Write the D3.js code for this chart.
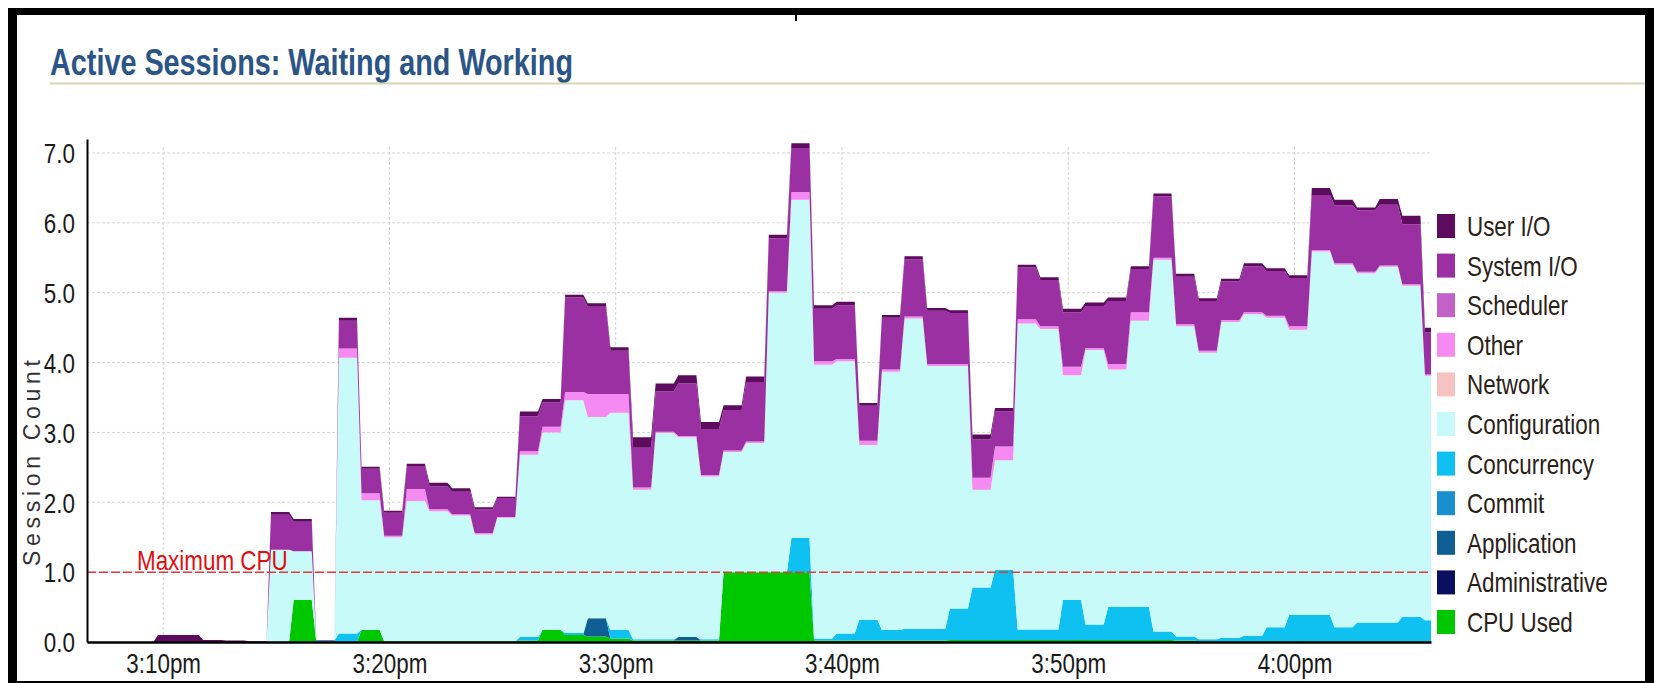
<!DOCTYPE html>
<html><head><meta charset="utf-8">
<script src="https://cdn.jsdelivr.net/npm/d3@7"></script>
<style>
html,body{margin:0;padding:0;background:#fff;}
svg{display:block;}
text{font-family:"Liberation Sans",Arial,sans-serif;}
</style></head><body>
<svg id="chart" width="1654" height="683"></svg>
<script>
// ---------- data ----------
const titleText = "Active Sessions: Waiting and Working";
const yAxisTitle = "Session Count";
const maxCpuLabel = "Maximum CPU";
const maxCpuValue = 1.0;

const seriesNames = ["CPU Used","Administrative","Application","Commit","Concurrency","Configuration","Network","Other","Scheduler","System I/O","User I/O"];
const seriesColors = ["#00c800","#0a0f5e","#0f5f95","#1a8fd0","#0fc1f1","#c9fafa","#f7c2c2","#f48af2","#c261c8","#9b30a3","#5c0b5e"];

// one sample per minute starting 3:07:10pm (60 samples)
const cpuUsed = [0,0,0,0,0,0,0,0,0,0.6, 0,0,0.17,0.01,0.01,0.01,0.01,0.01,0.01,0.02, 0.17,0.1,0.08,0.05,0.02,0.02,0.02,0.02,1.0,1.0, 1.0,1.0,0.02,0.02,0.02,0.02,0.02,0.02,0.03,0.03, 0.03,0.03,0.03,0.03,0.03,0.03,0.03,0.03,0.02,0.01, 0.01,0.01,0.01,0.01,0.01,0.01,0.01,0.01,0.01,0.01];
const administrative = [0,0,0,0,0,0,0,0,0,0, 0,0,0,0,0,0,0,0,0,0, 0,0,0,0,0,0,0,0,0,0, 0,0,0,0,0,0,0,0,0,0, 0,0,0,0,0,0,0,0,0,0, 0,0,0,0,0,0,0,0,0,0];
const application = [0,0,0,0,0,0,0,0,0,0, 0,0,0,0,0,0,0,0,0,0, 0,0,0.26,0,0,0,0.05,0,0,0, 0,0,0,0,0,0,0,0,0,0, 0,0,0,0,0,0,0,0,0,0, 0,0,0,0,0,0,0,0,0,0];
const commit = [0,0,0,0,0,0,0,0,0,0, 0,0,0,0,0,0,0,0,0,0, 0,0,0,0,0,0,0,0,0,0, 0,0,0,0,0,0,0,0,0,0, 0,0,0,0,0,0,0,0,0,0, 0,0,0,0,0,0,0,0,0,0];
const concurrency = [0,0,0,0,0,0,0,0,0,0, 0.02,0.12,0,0,0,0,0,0,0,0.05, 0,0.03,0,0.12,0.02,0.02,0,0.02,0,0, 0,0.49,0.03,0.1,0.3,0.15,0.17,0.17,0.45,0.75, 1.0,0.15,0.15,0.57,0.22,0.47,0.47,0.12,0.06,0.03, 0.05,0.08,0.2,0.38,0.38,0.2,0.27,0.27,0.35,0.3];
const configuration = [0,0,0,0,0,0,0,0,1.32,0.7, 0,3.95,1.86,1.49,2.01,1.86,1.8,1.53,1.77,2.61, 2.83,3.33,2.88,3.11,2.14,2.95,2.86,2.33,1.72,1.85, 4.0,4.84,3.92,3.9,2.5,3.7,4.44,3.76,3.47,1.4, 1.57,4.38,4.3,3.22,3.93,3.4,4.1,5.32,4.44,4.1, 4.52,4.6,4.43,4.08,5.2,5.19,5.0,5.09,4.74,3.5];
const network = [0,0,0,0,0,0,0,0,0,0, 0,0,0,0,0,0,0,0,0,0, 0,0,0,0,0,0,0,0,0,0, 0,0,0,0,0,0,0,0,0,0, 0,0,0,0,0,0,0,0,0,0, 0,0,0,0,0,0,0,0,0,0];
const other = [0,0,0,0,0,0,0,0,0,0, 0,0.13,0.1,0.02,0.17,0.03,0.02,0.02,0.01,0.05, 0.08,0.12,0.33,0.27,0.03,0.02,0.02,0.02,0.02,0.02, 0.02,0.11,0.05,0.03,0.06,0.03,0.03,0.03,0.03,0.17, 0.2,0.06,0.04,0.12,0.03,0.08,0.12,0.03,0.03,0.03, 0.03,0.03,0.03,0.05,0.02,0.02,0.02,0.02,0.02,0.02];
const scheduler = [0,0,0,0,0,0,0,0,0,0, 0,0,0,0,0,0,0,0,0,0, 0,0,0,0,0,0,0,0,0,0, 0,0,0,0,0,0,0,0,0,0, 0,0,0,0,0,0,0,0,0,0, 0,0,0,0,0,0,0,0,0,0];
const systemIO = [0,0,0,0,0,0,0,0,0.5,0.42, 0,0.4,0.35,0.33,0.33,0.33,0.32,0.34,0.27,0.5, 0.35,1.35,1.25,0.62,0.57,0.58,0.75,0.66,0.58,0.85, 0.76,0.63,0.75,0.77,0.5,0.74,0.82,0.76,0.73,0.55, 0.5,0.74,0.66,0.78,0.6,0.9,0.62,0.88,0.68,0.71, 0.55,0.66,0.64,0.69,0.79,0.83,0.88,0.87,0.86,0.6];
const userIO = [0,0,0,0.1,0.1,0.03,0.02,0.01,0.04,0.04, 0.01,0.04,0.03,0.03,0.03,0.05,0.05,0.03,0.02,0.07, 0.05,0.04,0.05,0.05,0.15,0.11,0.12,0.1,0.07,0.08, 0.05,0.07,0.05,0.05,0.04,0.04,0.04,0.04,0.04,0.07, 0.05,0.04,0.04,0.05,0.05,0.05,0.04,0.04,0.04,0.04, 0.04,0.04,0.04,0.04,0.1,0.08,0.04,0.08,0.12,0.07];

const seriesValues = [cpuUsed, administrative, application, commit, concurrency, configuration, network, other, scheduler, systemIO, userIO];

const xTickLabels = ["3:10pm","3:20pm","3:30pm","3:40pm","3:50pm","4:00pm"];
const xTickTimes = [[15,10],[15,20],[15,30],[15,40],[15,50],[16,0]];
const yTickValues = [0,1,2,3,4,5,6,7];
const yTickLabels = ["0.0","1.0","2.0","3.0","4.0","5.0","6.0","7.0"];

// ---------- layout ----------
const svg = d3.select("#chart");
const plot = {left: 87, right: 1431, top: 139, bottom: 642};
const day = (h,m,s) => new Date(2000,0,1,h,m,s||0);
const x = d3.scaleTime().domain([day(15,6,38), day(16,6,2)]).range([plot.left, plot.right]);
const y = d3.scaleLinear().domain([0, 7.2]).range([plot.bottom, plot.top]);

const sampleStart = day(15,7,10);
const sampleTimes = cpuUsed.map((_, i) => d3.timeMinute.offset(sampleStart, i));

// expand each one-minute sample into a short plateau
const rows = [];
sampleTimes.forEach((t, i) => {
  [-0.4, 0.4].forEach(off => {
    const r = {t: new Date(+t + off * 60000)};
    seriesNames.forEach((k, j) => r[k] = seriesValues[j][i]);
    rows.push(r);
  });
});
const stacked = d3.stack().keys(seriesNames)(rows);

const FS = 27, SX = 0.83;

// frame
svg.append("rect").attr("x",0).attr("y",0).attr("width",1654).attr("height",683).attr("fill","#fff");
const frame = svg.append("g").attr("fill","#000");
frame.append("rect").attr("x",8).attr("y",8).attr("width",1646).attr("height",7);
frame.append("rect").attr("x",8).attr("y",8).attr("width",9).attr("height",675);
frame.append("rect").attr("x",1645).attr("y",8).attr("width",9).attr("height",675);
frame.append("rect").attr("x",8).attr("y",681).attr("width",1646).attr("height",2);
svg.append("line").attr("x1",796).attr("x2",796).attr("y1",14).attr("y2",21).attr("stroke","#000").attr("stroke-width",2);

// title
svg.append("text").attr("x",50).attr("y",75).text(titleText)
  .attr("font-size",37).attr("font-weight","bold").attr("fill","#2c5587")
  .attr("textLength",523).attr("lengthAdjust","spacingAndGlyphs");
svg.append("line").attr("x1",50).attr("x2",1645).attr("y1",83.5).attr("y2",83.5)
  .attr("stroke","#d6d6b6").attr("stroke-width",2);

// grid
const grid = svg.append("g");
grid.selectAll("line.h").data(yTickValues.filter(v => v > 0)).join("line")
  .attr("x1",plot.left).attr("x2",plot.right).attr("y1",d=>y(d)).attr("y2",d=>y(d))
  .attr("stroke","#d4d4d4").attr("stroke-dasharray","3,2");
const tickDates = xTickTimes.map(a => day(a[0],a[1]));
grid.selectAll("line.v").data(tickDates).join("line")
  .attr("x1",d=>x(d)).attr("x2",d=>x(d)).attr("y1",plot.top+8).attr("y2",plot.bottom)
  .attr("stroke","#d4d4d4").attr("stroke-dasharray","3,2");

// areas
svg.append("clipPath").attr("id","clip").append("rect")
  .attr("x",plot.left).attr("y",plot.top).attr("width",plot.right-plot.left).attr("height",plot.bottom-plot.top);
const area = d3.area().x(d => x(d.data.t)).y0(d => y(d[0])).y1(d => y(d[1]));
svg.append("g").attr("clip-path","url(#clip)")
  .selectAll("path").data(stacked).join("path")
  .attr("d", area).attr("fill", (d,i) => seriesColors[i]);

// maximum CPU line
svg.append("line").attr("x1",plot.left).attr("x2",plot.right).attr("y1",y(maxCpuValue)).attr("y2",y(maxCpuValue))
  .attr("stroke","#e03a3a").attr("stroke-width",1.5).attr("stroke-dasharray","9,3");
svg.append("text").text(maxCpuLabel).attr("transform",`translate(137,${y(maxCpuValue)-2}) scale(${SX},1)`)
  .attr("font-size",FS).attr("fill","#e01010");

// axes
const yAxis = d3.axisLeft(y).tickValues(yTickValues).tickFormat((d,i)=>yTickLabels[i]).tickSize(0).tickSizeOuter(0).tickPadding(12);
const gy = svg.append("g").attr("transform",`translate(${plot.left},0)`).call(yAxis);
gy.select(".domain").attr("stroke","#000").attr("stroke-width",2);
gy.selectAll("text").attr("font-size",FS).attr("fill","#1a1a1a").attr("font-family",null)
  .attr("transform",`scale(${SX},1)`).attr("x",-12/SX).attr("dy","0.36em");

const xAxis = d3.axisBottom(x).tickValues(tickDates).tickFormat((d,i)=>xTickLabels[i]).tickSize(0).tickSizeOuter(0);
const gx = svg.append("g").attr("transform",`translate(0,${plot.bottom})`).call(xAxis);
gx.select(".domain").attr("stroke","#000").attr("stroke-width",2.5);
gx.selectAll("text").attr("font-size",FS).attr("fill","#1a1a1a").attr("font-family",null)
  .attr("transform",`scale(${SX},1)`).attr("y",31).attr("dy",0);

svg.append("text").text(yAxisTitle).attr("transform","translate(40,463) rotate(-90)")
  .attr("text-anchor","middle").attr("font-size",23).attr("fill","#333")
  .attr("textLength",206).attr("lengthAdjust","spacing");

// legend
const legendOrder = seriesNames.map((n,i)=>i).reverse();
const lg = svg.append("g");
legendOrder.forEach((si, k) => {
  const cy = 226 + 39.6 * k;
  lg.append("rect").attr("x",1437).attr("y",cy-12).attr("width",18).attr("height",24).attr("fill",seriesColors[si]);
  lg.append("text").text(seriesNames[si]).attr("transform",`translate(1467,${cy+10}) scale(${SX},1)`)
    .attr("font-size",FS).attr("fill","#2a2218");
});
</script>
</body></html>
